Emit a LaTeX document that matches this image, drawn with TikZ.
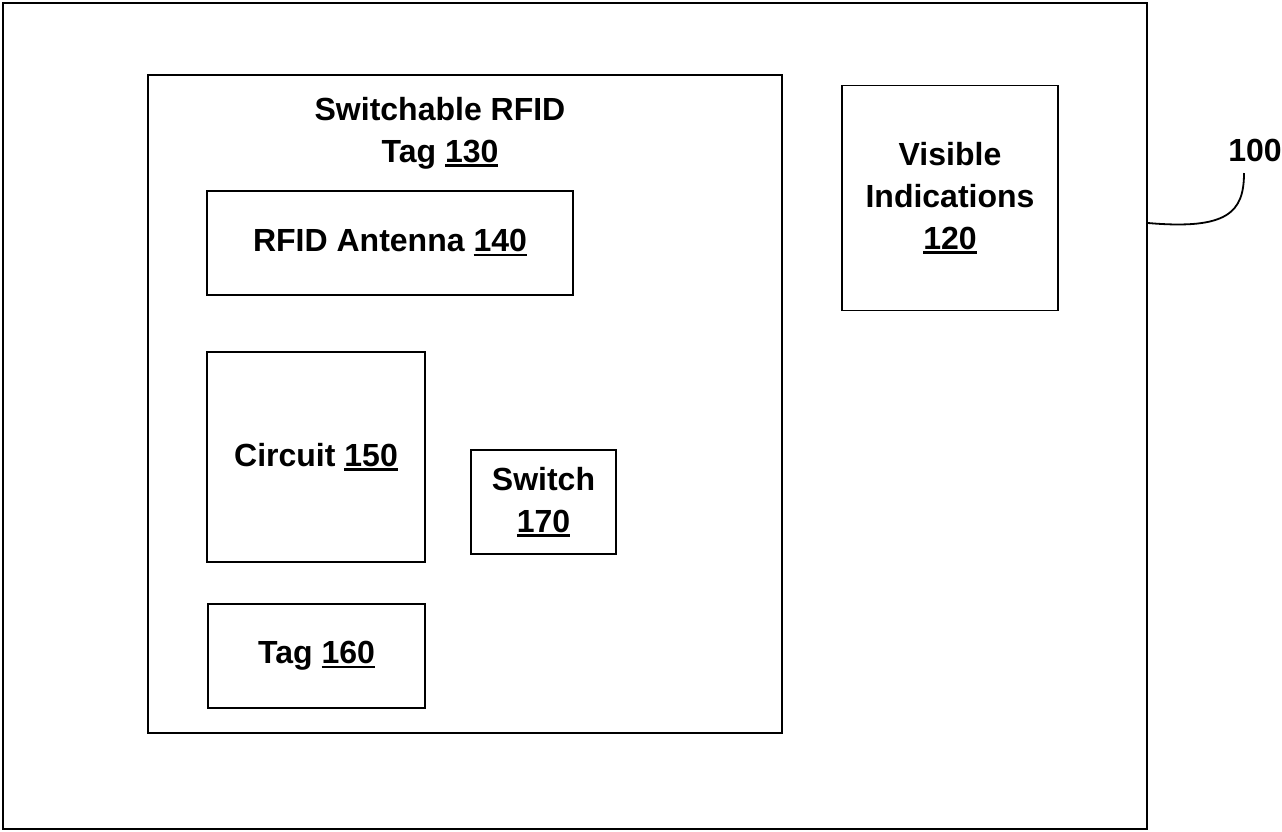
\documentclass[tikz,border=0pt]{standalone}
\usepackage{fontspec}
\setmainfont{Liberation Sans}
\newcommand\ulnum[1]{\begingroup\setbox0\hbox{#1}\rlap{\rule[-4.5pt]{\wd0}{2.4pt}}\box0\endgroup}
\begin{document}
\begin{tikzpicture}[x=1pt,y=-1pt,
  box/.style={draw=black, line width=1.8pt, inner sep=0pt, align=center,
    font=\fontsize{32}{42}\selectfont\bfseries},
  leader/.style={draw=black, line width=1.8pt}]
\useasboundingbox (0,0) rectangle (1282,831);
\node[box, line width=2pt, minimum width=1144pt, minimum height=826pt] (outer) at (575,416) {};
\node[box, minimum width=634pt, minimum height=658pt] (tag130) at (465,404) {};
\node[font=\fontsize{32}{42}\selectfont\bfseries, align=center, inner sep=0pt] (title) at (440,133) {Switchable RFID\\Tag \ulnum{130}};
\node[box, minimum width=366pt, minimum height=104pt] (ant) at (390,243) {RFID Antenna \ulnum{140}};
\node[box, minimum width=218pt, minimum height=210pt] (circ) at (316,457) {Circuit \ulnum{150}};
\node[box, minimum width=145pt, minimum height=104pt] (sw) at (543.5,502) {Switch\\\ulnum{170}};
\node[box, minimum width=217pt, minimum height=104pt] (tag160) at (316.5,656) {Tag \ulnum{160}};
\node[box, minimum width=216pt, minimum height=225pt] (vis) at (950,198) {Visible\\Indications\\\ulnum{120}};
\node[font=\fontsize{32}{42}\selectfont\bfseries, inner sep=0pt] (lab100) at (1255,150) {100};
\coordinate (lref) at (0,223);
\coordinate (lend) at (1244,173);
\draw[leader] (outer.east |- lref) .. controls (1228,230) and (1244,212) .. (lend);
\end{tikzpicture}
\end{document}
